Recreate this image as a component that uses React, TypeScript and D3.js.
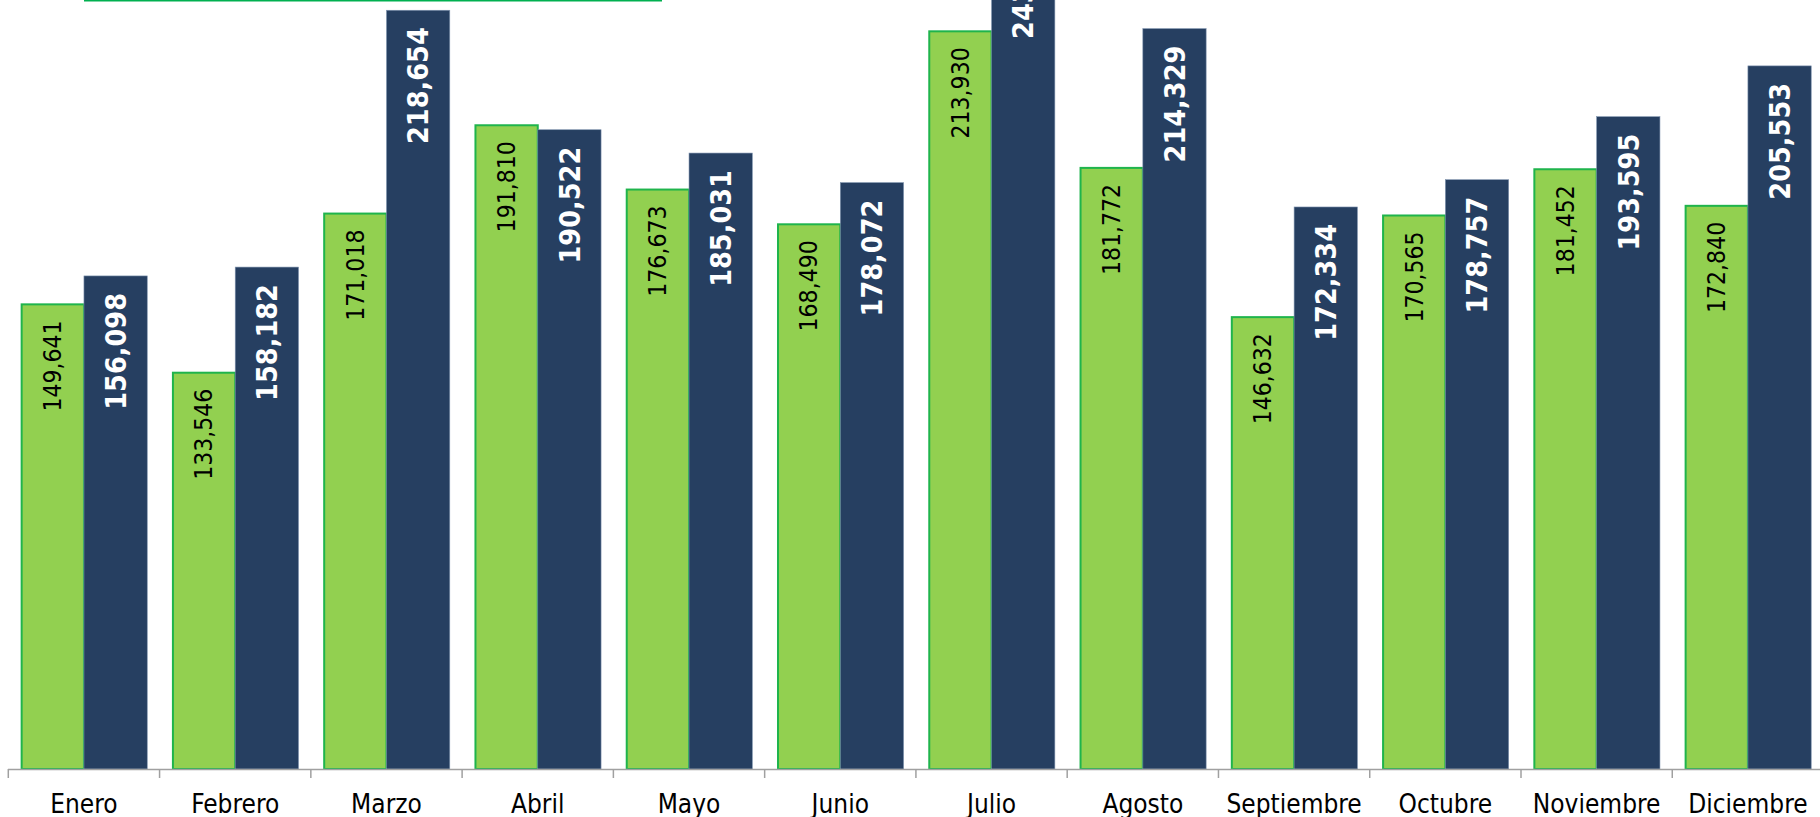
import React from "react";
import * as d3 from "d3";

const months = ["Enero", "Febrero", "Marzo", "Abril", "Mayo", "Junio", "Julio", "Agosto", "Septiembre", "Octubre", "Noviembre", "Diciembre"];
const seriesA = [149641, 133546, 171018, 191810, 176673, 168490, 213930, 181772, 146632, 170565, 181452, 172840];
const seriesB = [156098, 158182, 218654, 190522, 185031, 178072, 243412, 214329, 172334, 178757, 193595, 205553];
const seriesKeys = ["A", "B"];

const W = 1820;
const H = 817;
const FONT = "'DejaVu Sans Condensed', 'DejaVu Sans', sans-serif";

export default function App() {
  const axisY = 769;
  const x0 = d3.scaleBand<string>().domain(months).range([8.3, 8.3 + 12 * 151.27]).padding(0);
  const x1 = d3.scaleBand<string>().domain(seriesKeys).range([12.35, 12.35 + 126.6]).padding(0);
  const y = d3.scaleLinear().domain([40000, 250000]).range([axisY, axisY - 210000 * 0.004247]);
  const fmt = d3.format(",");

  const rows = months.map((m, i) => ({ m, a: seriesA[i], b: seriesB[i] }));

  return (
    <svg width={W} height={H} style={{ position: "absolute", left: 0, top: 0, background: "#fff" }} fontFamily={FONT}>
      <line x1={84} x2={662} y1={0.75} y2={0.75} stroke="#00B050" strokeWidth={1.5} />
      <g>
        {rows.map((r) => {
          const gx = x0(r.m)!;
          const ax = gx + x1("A")!;
          const bx = gx + x1("B")!;
          const bw = x1.bandwidth();
          return (
            <g key={r.m}>
              <rect x={ax + 1} y={y(r.a) + 1} width={bw - 1} height={axisY - y(r.a) - 1} fill="#92D050" stroke="#1FB44C" strokeWidth={2} />
              <rect x={bx} y={y(r.b)} width={bw} height={axisY - y(r.b)} fill="#263F61" stroke="#7F93AE" strokeWidth={0.6} />
            </g>
          );
        })}
        {rows.map((r) => {
          const gx = x0(r.m)!;
          const bw = x1.bandwidth();
          const acx = gx + x1("A")! + bw / 2;
          const bcx = gx + x1("B")! + bw / 2;
          const ay = y(r.a) + 17;
          const by = y(r.b) + 17;
          return (
            <g key={r.m + "l"}>
              <text transform={`translate(${acx},${ay}) rotate(-90)`} textAnchor="end" dy="0.36em" fontSize={24.5} fill="#000">
                {fmt(r.a)}
              </text>
              <text transform={`translate(${bcx},${by}) rotate(-90)`} textAnchor="end" dy="0.36em" fontSize={28.5} fontWeight="bold" fill="#fff">
                {fmt(r.b)}
              </text>
            </g>
          );
        })}
      </g>
      <line x1={8} x2={W} y1={axisY + 0.5} y2={axisY + 0.5} stroke="#A0A0A0" strokeWidth={1.5} />
      {months.map((m) => (
        <line key={m + "t"} x1={x0(m)!} x2={x0(m)!} y1={axisY} y2={axisY + 9} stroke="#A0A0A0" strokeWidth={1.5} />
      ))}
      {months.map((m) => (
        <text key={m + "x"} x={x0(m)! + x0.bandwidth() / 2} y={813} textAnchor="middle" fontSize={26} fill="#000">
          {m}
        </text>
      ))}
    </svg>
  );
}
